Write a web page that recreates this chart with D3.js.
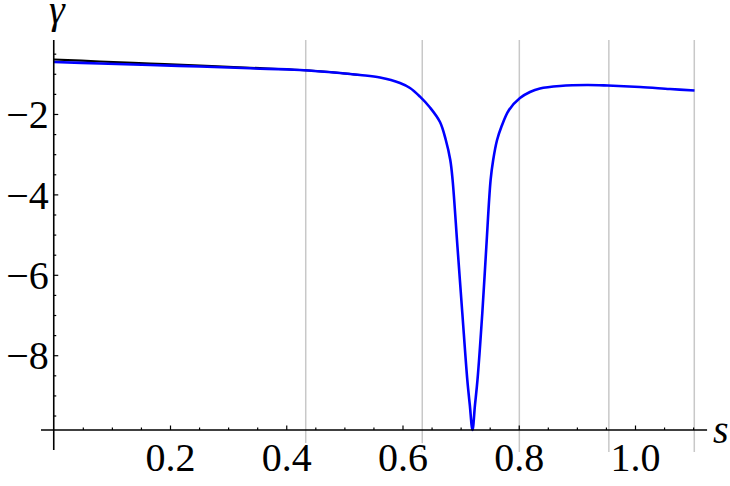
<!DOCTYPE html>
<html>
<head>
<meta charset="utf-8">
<script src="https://cdn.jsdelivr.net/npm/d3@7"></script>
</head>
<body style="margin:0">
<script>
// Blue curve gamma(s)
var blueS = [0, 0.0796, 0.1656, 0.2516, 0.3376, 0.4237, 0.4925, 0.5269, 0.5613, 0.5957,
             0.6129, 0.6301, 0.6473, 0.6645, 0.6745, 0.6822, 0.6862, 0.6946, 0.7029, 0.7115,
             0.7158, 0.7204, 0.7247, 0.7290, 0.7373, 0.7442, 0.7516, 0.7560, 0.7627, 0.7700,
             0.7832, 0.8021, 0.8193, 0.8365, 0.8709, 0.9174, 0.9535, 1.0086, 1.0602, 1.1024];
var blueG = [-0.707, -0.745, -0.782, -0.819, -0.864, -0.906, -0.981, -1.031, -1.093, -1.229,
             -1.354, -1.570, -1.840, -2.200, -2.647, -3.145, -3.642, -5.308, -6.950, -8.616,
             -9.238, -9.86, -9.238, -8.616, -6.950, -5.308, -3.642, -3.145, -2.647, -2.324,
             -1.901, -1.603, -1.453, -1.366, -1.304, -1.279, -1.292, -1.329, -1.379, -1.416];

// Black curve, only visible where it separates from the blue one
var blackS = [0, 0.0796, 0.1656, 0.2516, 0.3376, 0.4237, 0.4925, 0.5269];
var blackG = [-0.645, -0.695, -0.745, -0.794, -0.851, -0.906, -0.981, -1.031];

// Grid lines and ticks
var gridS = [0.4335, 0.634, 0.801, 0.955, 1.102];
var xMajor = [0.2, 0.4, 0.6, 0.8, 1.0];
var xMinor = [0.05, 0.1, 0.15, 0.25, 0.3, 0.35, 0.45, 0.5, 0.55, 0.65, 0.7, 0.75,
              0.85, 0.9, 0.95, 1.05, 1.1];
var yMajor = [-2, -4, -6, -8];
var yMinor = [-0.5, -1, -1.5, -2.5, -3, -3.5, -4.5, -5, -5.5, -6.5, -7, -7.5,
              -8.5, -9, -9.5];

var width = 730,
    height = 486,
    serif = "'Liberation Serif'";

var svg = d3.select("body")
  .append("svg")
    .attr("width", width)
    .attr("height", height)
    .style("font-family", serif);

// Scales
var x = d3.scaleLinear()
  .domain([0, 1])
  .range([53.75, 635]);
var y = d3.scaleLinear()
  .domain([-0.16, -9.86])
  .range([40, 430]);

var xAxisY = y(-9.86),
    yAxisX = x(0);

// Grid lines
svg.append("g")
  .selectAll("line")
  .data(gridS)
  .enter()
  .append("line")
    .attr("x1", function(d) { return x(d); })
    .attr("x2", function(d) { return x(d); })
    .attr("y1", y(-0.16))
    .attr("y2", xAxisY + 22)
    .attr("stroke", "#c8c8c8")
    .attr("stroke-width", 1.5);

// Curves
var line = d3.line()
  .x(function(d) { return x(d[0]); })
  .y(function(d) { return y(d[1]); })
  .curve(d3.curveCatmullRom.alpha(0.5));

svg.append("path")
  .datum(d3.zip(blackS, blackG))
  .attr("d", line)
  .attr("fill", "none")
  .attr("stroke", "#000000")
  .attr("stroke-width", 2.2);

svg.append("path")
  .datum(d3.zip(blueS, blueG))
  .attr("d", line)
  .attr("fill", "none")
  .attr("stroke", "#0000ff")
  .attr("stroke-width", 2.6)
  .attr("stroke-linejoin", "round");

// X axis: major ticks with labels, minor ticks without
var xAxis = svg.append("g")
  .attr("transform", "translate(0," + xAxisY + ")")
  .call(d3.axisBottom(x).tickValues(xMajor).tickSize(-4.5).tickPadding(13)
    .tickFormat(d3.format(".1f")));
svg.append("g")
  .attr("transform", "translate(0," + xAxisY + ")")
  .call(d3.axisBottom(x).tickValues(xMinor).tickSize(-2.5).tickFormat(""));

// Y axis
var yAxis = svg.append("g")
  .attr("transform", "translate(" + yAxisX + ",0)")
  .call(d3.axisLeft(y).tickValues(yMajor).tickSize(-4.5).tickPadding(5)
    .tickFormat(d3.format("d")));
svg.append("g")
  .attr("transform", "translate(" + yAxisX + ",0)")
  .call(d3.axisLeft(y).tickValues(yMinor).tickSize(-2.5).tickFormat(""));

// Replace the default domain paths with plain axis lines
svg.selectAll(".domain").remove();
svg.append("line")
  .attr("x1", x(-0.022)).attr("x2", x(1.124))
  .attr("y1", xAxisY).attr("y2", xAxisY)
  .attr("stroke", "#000").attr("stroke-width", 1.6);
svg.append("line")
  .attr("x1", yAxisX).attr("x2", yAxisX)
  .attr("y1", y(-0.16)).attr("y2", xAxisY + 20)
  .attr("stroke", "#000").attr("stroke-width", 1.6);

svg.selectAll(".tick line")
  .attr("stroke", "#000")
  .attr("stroke-width", 1.2);

svg.selectAll("g").attr("font-family", null);
svg.selectAll(".tick text")
  .attr("font-family", "Liberation Serif")
  .style("font-family", serif)
  .style("font-size", "40px")
  .attr("fill", "#000");

// White halo on the x labels hides the grid lines behind them
xAxis.selectAll(".tick text")
  .attr("stroke", "#ffffff")
  .attr("stroke-width", 4)
  .attr("paint-order", "stroke");
yAxis.selectAll(".tick text")
  .attr("dy", "0.34em");

// Axis names
svg.append("text")
  .attr("x", 57)
  .attr("y", 23)
  .attr("text-anchor", "middle")
  .attr("font-family", "Liberation Serif")
  .style("font-family", serif)
  .style("font-style", "italic")
  .style("font-size", "40px")
  .text("γ");

svg.append("text")
  .attr("x", 713)
  .attr("y", 443)
  .attr("font-family", "Liberation Serif")
  .style("font-family", serif)
  .style("font-style", "italic")
  .style("font-size", "40px")
  .text("s");
</script>
</body>
</html>
